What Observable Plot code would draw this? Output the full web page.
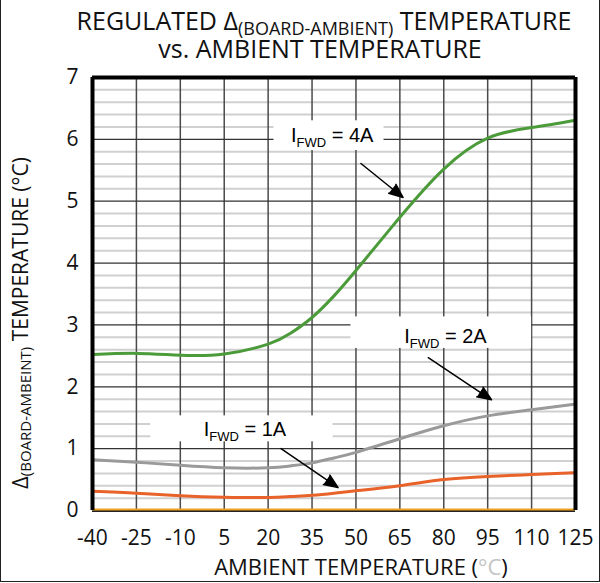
<!DOCTYPE html>
<html><head><meta charset="utf-8">
<script src="https://cdn.jsdelivr.net/npm/d3@7"></script>
<script src="https://cdn.jsdelivr.net/npm/@observablehq/plot@0.6"></script>
<style>
html,body{margin:0;padding:0;background:#fff;}
#wrap{position:relative;width:600px;height:583px;overflow:hidden;}
#wrap svg{position:absolute;left:0;top:0;}
#border{position:absolute;left:0;top:0;width:600px;height:582px;box-sizing:border-box;border-left:1.5px solid #222;border-right:1.5px solid #222;border-bottom:1.5px solid #222;pointer-events:none;}
</style></head>
<body><div id="wrap"><div id="border"></div></div>
<script>
// ---- data ----
const temps = [-40, -25, -10, 5, 20, 27.5, 35, 42.5, 50, 65, 80, 95, 110, 125];
const ifwd4A = [2.52, 2.54, 2.51, 2.53, 2.69, 2.86, 3.12, 3.47, 3.88, 4.74, 5.52, 6.02, 6.19, 6.31];
const ifwd2A = [0.82, 0.78, 0.73, 0.69, 0.69, 0.72, 0.77, 0.85, 0.94, 1.16, 1.37, 1.53, 1.63, 1.72];
const ifwd1A = [0.31, 0.28, 0.24, 0.215, 0.21, 0.225, 0.245, 0.28, 0.32, 0.40, 0.50, 0.55, 0.58, 0.61];
const xTicks = [-40, -25, -10, 5, 20, 35, 50, 65, 80, 95, 110, 125];
const yTicks = [0, 1, 2, 3, 4, 5, 6, 7];
const seriesLabels = ["I|FWD| = 4A", "I|FWD| = 2A", "I|FWD| = 1A"];
const seriesColors = ["#4c9b3a", "#9a9a9a", "#e8622a"];
const labelX = [27.8, 66.5, -2.0];
const labelY = [5.95, 2.70, 1.21];
const boxX1 = [22.0, 48.3, -20.1];
const boxX2 = [59.6, 110.0, 42.2];
const boxY1 = [5.82, 2.62, 1.11];
const boxY2 = [6.30, 3.13, 1.53];
const arrowX1 = [51.7, 74.7, 24.4];
const arrowY1 = [5.61, 2.47, 1.00];
const arrowX2 = [66.1, 96.3, 43.9];
const arrowY2 = [5.06, 1.79, 0.37];
const zeroLine = [0];

// ---- tables ----
const seriesVals = [ifwd4A, ifwd2A, ifwd1A];
const lines = seriesVals.map(vals => temps.map((t, i) => ({t, v: vals[i]})));
const labels = seriesLabels.map((s, i) => ({s, x: labelX[i], y: labelY[i]}));
const boxes = boxX1.map((d, i) => ({x1: boxX1[i], x2: boxX2[i], y1: boxY1[i], y2: boxY2[i]}));
const arrows = arrowX1.map((d, i) => ({x1: arrowX1[i], y1: arrowY1[i], x2: arrowX2[i], y2: arrowY2[i]}));
const yMinor = d3.range(1, 35).map(i => i / 5).filter(v => Math.abs(v - Math.round(v)) > 1e-6);
const yMajorInner = yTicks.filter(v => v > 0 && v < 7);
const xInner = xTicks.filter(v => v > -40 && v < 125);

const plot = Plot.plot({
  width: 600, height: 583,
  marginTop: 77, marginRight: 25, marginBottom: 73, marginLeft: 92,
  style: {fontFamily: "'Open Sans', sans-serif", fontSize: "21px", color: "#111", background: "transparent"},
  x: {domain: [-40, 125], ticks: xTicks, tickSize: 0, tickPadding: 20, tickFormat: d => String(d), label: null},
  y: {domain: [0, 7], ticks: yTicks, tickSize: 0, tickPadding: 14, tickFormat: d => String(d), label: null},
  marks: [
    Plot.ruleY(yMinor, {stroke: "#d0d0d0", strokeWidth: 2}),
    Plot.ruleX(xInner, {stroke: "#4a4a4a", strokeWidth: 1.5}),
    Plot.ruleY(yMajorInner, {stroke: "#333", strokeWidth: 1.3}),
    Plot.rect(boxes, {x1: "x1", x2: "x2", y1: "y1", y2: "y2", fill: "white"}),
    ...lines.map((data, i) => Plot.line(data, {x: "t", y: "v", stroke: seriesColors[i], strokeWidth: 3, curve: "natural"})),
    Plot.arrow(arrows, {x1: "x1", y1: "y1", x2: "x2", y2: "y2", stroke: "#000", fill: "#000", strokeWidth: 1.5, headLength: 15, headAngle: 45}),
    Plot.text(labels, {x: "x", y: "y", text: "s", textAnchor: "start", lineAnchor: "bottom", fontFamily: "'Liberation Sans', Arial, sans-serif", fontSize: 20, fill: "#000"}),
    Plot.ruleY(zeroLine, {stroke: "#222", strokeWidth: 3}),
    Plot.ruleY(zeroLine, {stroke: "#f0a020", strokeWidth: 2, dy: -1}),
    Plot.ruleX([-40, 125], {stroke: "#000", strokeWidth: 4}),
    Plot.ruleY([7], {stroke: "#000", strokeWidth: 4})
  ]
});

const svg = d3.select(plot);
// annotation labels with subscripts
svg.selectAll("text").each(function () {
  const t = this.textContent;
  if (t.indexOf("|") < 0) return;
  const [a, b, c] = t.split("|");
  const sel = d3.select(this);
  sel.text("");
  sel.append("tspan").text(a);
  sel.append("tspan").attr("font-size", 13).attr("dy", 5).text(b);
  sel.append("tspan").attr("dy", -5).text(c);
});

function richText(x, y, parts, attrs) {
  const t = svg.append("text").attr("x", x).attr("y", y).attr("text-anchor", "middle")
    .attr("font-family", "'Open Sans', sans-serif").attr("fill", "#111");
  for (const k in attrs) t.attr(k, attrs[k]);
  for (const p of parts) {
    const s = t.append("tspan").text(p.text);
    if (p.size) s.attr("font-size", p.size);
    if (p.dy) s.attr("dy", p.dy);
    if (p.fill) s.attr("fill", p.fill);
  }
  return t;
}
// title
richText(324, 30, [
  {text: "REGULATED Δ", size: 25},
  {text: "(BOARD-AMBIENT)", size: 18, dy: 5},
  {text: " TEMPERATURE", size: 25, dy: -5}
]);
richText(320, 58, [{text: "vs. AMBIENT TEMPERATURE", size: 25}]);
// x label
richText(361, 575, [
  {text: "AMBIENT TEMPERATURE (", size: 22},
  {text: "°C", size: 22, fill: "#c4c4c4"},
  {text: ")", size: 22}
]);
// y label
richText(0, 0, [
  {text: "Δ", size: 22},
  {text: "(BOARD-AMBEINT)", size: 15, dy: 3},
  {text: " TEMPERATURE (°C)", size: 21, dy: -3}
], {transform: "translate(28,323) rotate(-90)"});

document.getElementById("wrap").prepend(plot);
</script>
</body></html>
